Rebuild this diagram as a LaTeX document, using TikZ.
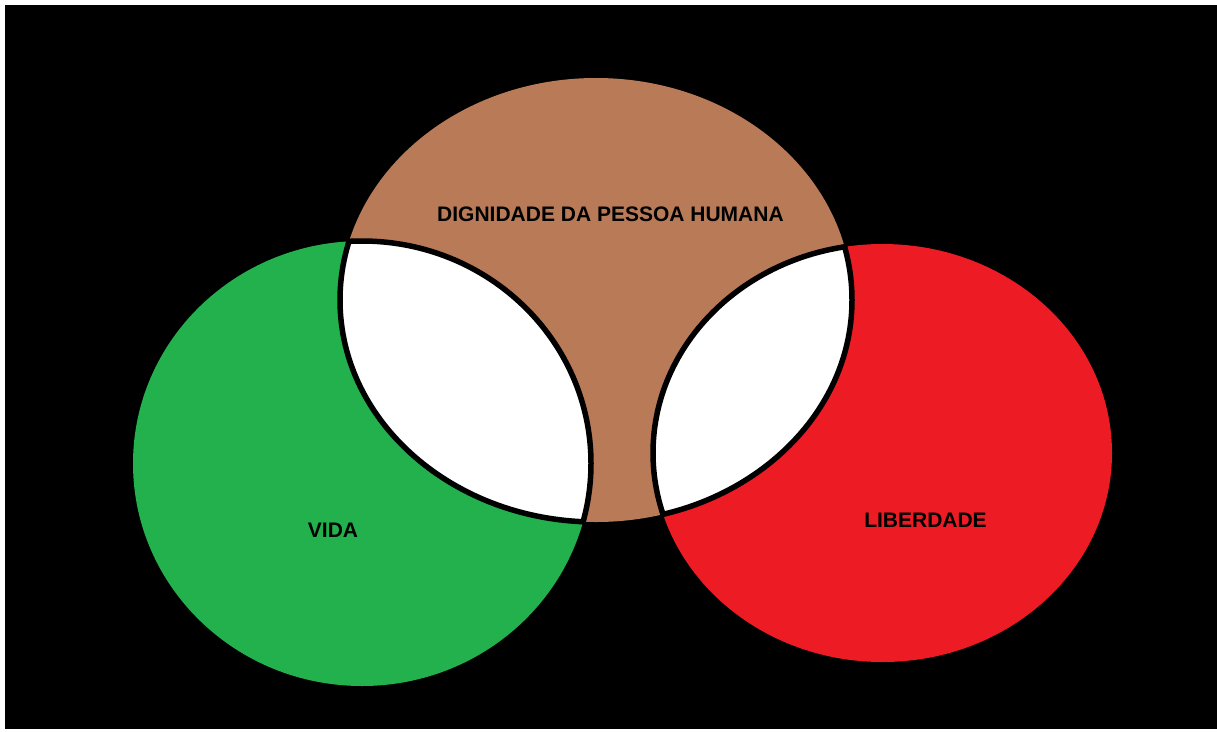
\documentclass[tikz,border=0pt]{standalone}
\usepackage{fontspec}
\setmainfont{Liberation Sans}
\definecolor{pgreen}{HTML}{22B14C}
\definecolor{pred}{HTML}{ED1C24}
\definecolor{pbrown}{HTML}{B97A57}
\tikzset{
  lbl/.style={font=\fontsize{21}{24}\selectfont\bfseries, text=black, inner sep=0pt},
  lensline/.style={draw=black, line width=5.5pt}
}
\def\brownE{(596pt,-300pt) ellipse [x radius=256pt, y radius=222pt]}
\def\greenE{(362pt,-463.5pt) ellipse [x radius=229pt, y radius=222.5pt]}
\def\redE{(882.5pt,-453pt) ellipse [x radius=229.5pt, y radius=209pt]}
\def\brownB{(596pt,-300pt) ellipse [x radius=258.5pt, y radius=224.5pt]}
\def\greenB{(362pt,-463.5pt) ellipse [x radius=231.5pt, y radius=225pt]}
\def\redB{(882.5pt,-453pt) ellipse [x radius=232pt, y radius=211.5pt]}
\begin{document}
\begin{tikzpicture}
  \useasboundingbox (0pt,0pt) rectangle (1217pt,-731pt);
  \fill[white] (0pt,0pt) rectangle (1217pt,-731pt);
  \fill[black] (5pt,-5pt) rectangle (1217pt,-729pt);
  % circles
  \fill[pgreen] \greenE;
  \fill[pred] \redE;
  \fill[pbrown] \brownE;
  % intersections
  \begin{scope}
    \clip \greenE;
    \fill[white] \brownE;
  \end{scope}
  \begin{scope}
    \clip \redE;
    \fill[white] \brownE;
  \end{scope}
  % lens outlines
  \begin{scope}
    \clip \greenB;
    \path[lensline] \brownE;
  \end{scope}
  \begin{scope}
    \clip \brownB;
    \path[lensline] \greenE;
  \end{scope}
  \begin{scope}
    \clip \redB;
    \path[lensline] \brownE;
  \end{scope}
  \begin{scope}
    \clip \brownB;
    \path[lensline] \redE;
  \end{scope}
  % labels
  \node[lbl] (dig) at (610.5pt,-214pt) {DIGNIDADE DA PESSOA HUMANA};
  \node[lbl] (vida) at (333pt,-530pt) {VIDA};
  \node[lbl] (lib) at (925.5pt,-520pt) {LIBERDADE};
\end{tikzpicture}
\end{document}
